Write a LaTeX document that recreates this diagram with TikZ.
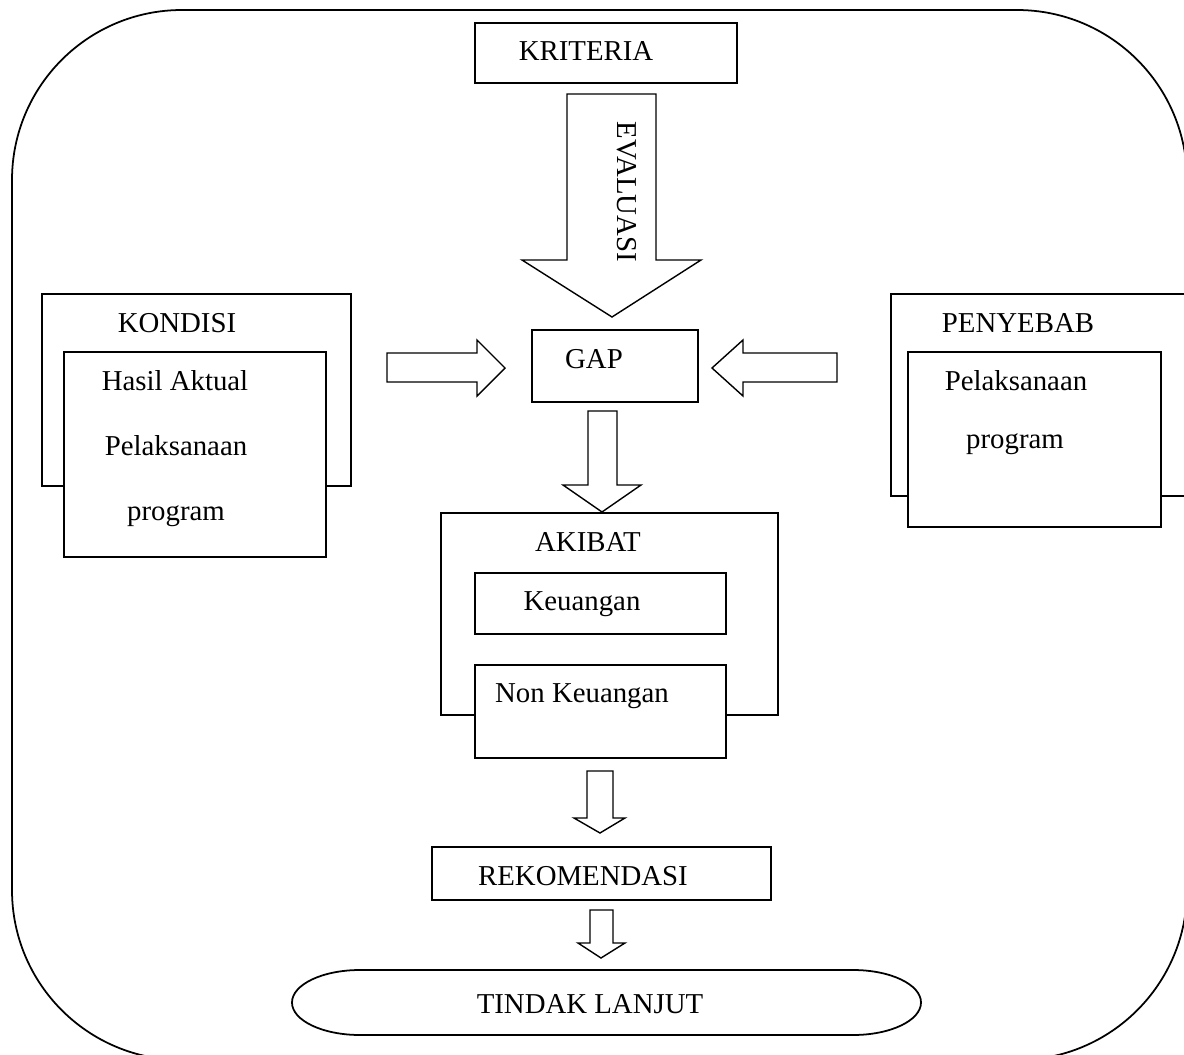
\documentclass[tikz,border=0pt]{standalone}
\usepackage{fontspec}
\setmainfont{Liberation Serif}
\usetikzlibrary{fit}
\begin{document}
\begin{tikzpicture}[x=0.02cm,y=-0.02cm,
  line join=miter,
  box/.style={draw, fill=white, line width=1pt, inner sep=0pt, outer sep=0pt},
  lbl/.style={anchor=base, inner sep=0pt, font=\fontsize{16.4}{19}\selectfont},
  blockarrow/.style={draw, fill=white, line width=0.8pt}]
\useasboundingbox (0,0) rectangle (1184,1055);
\clip (0,0) rectangle (1184,1055);

% outer rounded frame
\draw[line width=1pt, rounded corners=3.4cm] (12,10) rectangle (1187,1060);

% criteria and the evaluation arrow
\node[box, fit={(475,23) (737,83)}] (kriteria) {};
\node[lbl] (tkriteria) at (586,60) {KRITERIA};
\draw[blockarrow] (567,94) -- (656,94) -- (656,260) -- (701,260) -- (612,317)
  -- (522,260) -- (567,260) -- cycle;
\node[font=\fontsize{16.4}{19}\selectfont, rotate=-90, inner sep=0pt] (tevaluasi) at (627,192) {EVALUASI};

% gap
\node[box, fit={(532,330) (698,402)}] (gap) {};
\node[lbl] (tgap) at (594,368) {GAP};

% condition (left)
\node[box, fit={(42,294) (351,486)}] (kondisi) {};
\node[lbl] (tkondisi) at (177,332) {KONDISI};
\node[box, fit={(64,352) (326,557)}] (hasil) {};
\node[lbl] (thasil1) at (175,390) {Hasil Aktual};
\node[lbl] (thasil2) at (176,455) {Pelaksanaan};
\node[lbl] (thasil3) at (176,520) {program};

% cause (right)
\node[box, fit={(891,294) (1200,496)}] (penyebab) {};
\node[lbl] (tpenyebab) at (1018,332) {PENYEBAB};
\node[box, fit={(908,352) (1161,527)}] (pelaks) {};
\node[lbl] (tpelaks1) at (1016,390) {Pelaksanaan};
\node[lbl] (tpelaks2) at (1015,448) {program};

% arrows into the gap
\draw[blockarrow] (387,353) -- (477,353) -- (477,340) -- (505,368) -- (477,396)
  -- (477,382) -- (387,382) -- cycle;
\draw[blockarrow] (837,353) -- (743,353) -- (743,340) -- (712,368) -- (743,396)
  -- (743,382) -- (837,382) -- cycle;

% gap to effect
\draw[blockarrow] (588,411) -- (617,411) -- (617,485) -- (641,485) -- (602,512)
  -- (563,485) -- (588,485) -- cycle;

% effect
\node[box, fit={(441,513) (778,715)}] (akibat) {};
\node[lbl] (takibat) at (588,551) {AKIBAT};
\node[box, fit={(475,573) (726,634)}] (keu) {};
\node[lbl] (tkeu) at (582,610) {Keuangan};
\node[box, fit={(475,665) (726,758)}] (nonkeu) {};
\node[lbl] (tnonkeu) at (582,702) {Non Keuangan};

% effect to recommendation
\draw[blockarrow] (587,771) -- (613,771) -- (613,818) -- (625,818) -- (600,833)
  -- (574,818) -- (587,818) -- cycle;
\node[box, fit={(432,847) (771,900)}] (rekom) {};
\node[lbl] (trekom) at (583,885) {REKOMENDASI};

% recommendation to follow-up
\draw[blockarrow] (590,910) -- (613,910) -- (613,943) -- (625,943) -- (601,958)
  -- (578,943) -- (590,943) -- cycle;
\draw[line width=1pt, fill=white] (360,970) -- (853,970)
  .. controls (890.6,970) and (921,984.55) .. (921,1002.5)
  .. controls (921,1020.45) and (890.6,1035) .. (853,1035)
  -- (360,1035)
  .. controls (322.4,1035) and (292,1020.45) .. (292,1002.5)
  .. controls (292,984.55) and (322.4,970) .. (360,970) -- cycle;
\node[lbl] (ttindak) at (590,1013) {TINDAK LANJUT};
\end{tikzpicture}
\end{document}
